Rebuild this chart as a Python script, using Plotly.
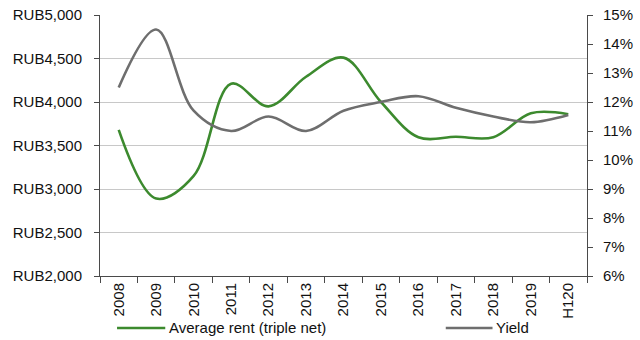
import plotly.graph_objects as go

# Office rent and yield, 2008 to H1 2020
periods = ["2008", "2009", "2010", "2011", "2012", "2013", "2014",
           "2015", "2016", "2017", "2018", "2019", "H120"]
avg_rent = [3680, 2890, 3150, 4210, 3950, 4290, 4510,
            4000, 3595, 3600, 3595, 3870, 3860]
yield_pct = [12.5, 14.5, 11.7, 11.0, 11.5, 11.0, 11.7,
             12.0, 12.2, 11.8, 11.5, 11.3, 11.55]
series_names = ["Average rent (triple net)", "Yield"]

GREEN = "#3c8a2e"
GREY = "#6e6e6e"
AXIS = "#4a4a4a"
FONT = dict(family="Liberation Sans, Arial, sans-serif", size=15, color="#111111")

fig = go.Figure()
fig.add_trace(go.Scatter(
    x=periods, y=avg_rent, name=series_names[0],
    mode="lines", line=dict(color=GREEN, width=2.6, shape="spline", smoothing=1.0),
))
fig.add_trace(go.Scatter(
    x=periods, y=yield_pct, name=series_names[1], yaxis="y2",
    mode="lines", line=dict(color=GREY, width=2.6, shape="spline", smoothing=1.0),
))

# Legend drawn below the axis: a line sample followed by the series name
legend_y = -0.199
legend_items = [(0.035, 0.134, GREEN, series_names[0]),
                (0.710, 0.806, GREY, series_names[1])]
shapes, annotations = [], []
for x0, x1, color, label in legend_items:
    shapes.append(dict(type="line", xref="paper", yref="paper",
                       x0=x0, x1=x1, y0=legend_y, y1=legend_y,
                       line=dict(color=color, width=2.6)))
    annotations.append(dict(xref="paper", yref="paper", x=x1 + 0.004, y=legend_y,
                            xanchor="left", yanchor="middle", showarrow=False,
                            text=label, font=FONT))

fig.update_layout(
    width=640, height=340,
    margin=dict(l=100, r=53, t=15, b=64),
    paper_bgcolor="white", plot_bgcolor="white",
    font=FONT,
    showlegend=False,
    shapes=shapes,
    annotations=annotations,
    xaxis=dict(
        type="category", tickangle=-90, tickson="boundaries",
        ticks="outside", ticklen=6, tickcolor=AXIS,
        showline=True, linecolor=AXIS, linewidth=1,
        showgrid=False, range=[-0.5, 12.5], fixedrange=True,
        automargin=False,
    ),
    yaxis=dict(
        range=[2000, 5000], dtick=500, tickprefix="RUB", tickformat=",d",
        ticks="outside", ticklen=5, tickcolor=AXIS, ticklabelstandoff=9,
        showline=True, linecolor=AXIS, linewidth=1,
        showgrid=True, gridcolor="#c8c8c8", gridwidth=1, zeroline=False,
        automargin=False,
    ),
    yaxis2=dict(
        overlaying="y", side="right", range=[6, 15], dtick=1, ticksuffix="%",
        ticks="outside", ticklen=5, tickcolor=AXIS, ticklabelstandoff=7,
        showline=True, linecolor=AXIS, linewidth=1,
        showgrid=False, zeroline=False, automargin=False,
    ),
)

fig.write_html("out.html")
